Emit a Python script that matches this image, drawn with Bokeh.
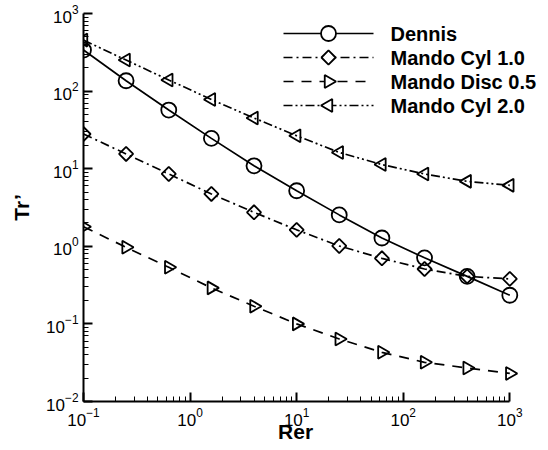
import math
from bokeh.plotting import figure
from bokeh.models import Range1d, FixedTicker, LogTickFormatter
from bokeh.core.properties import value
from bokeh.embed import file_html
from bokeh.resources import INLINE

# ---- data ----
rer = [0.1, 0.251, 0.631, 1.585, 3.98, 10.0, 25.1, 63.1, 158.5, 398.0, 1000.0]
dennis = [338, 136, 57, 24.6, 10.9, 5.2, 2.54, 1.28, 0.71, 0.41, 0.234]
mando_cyl_10 = [28.0, 15.5, 8.55, 4.73, 2.74, 1.63, 1.01, 0.70, 0.51, 0.41, 0.38]
mando_disc_05 = [1.79, 0.97, 0.536, 0.291, 0.169, 0.100, 0.064, 0.043, 0.032, 0.027, 0.023]
mando_cyl_20 = [454, 251, 139, 78, 45, 26.6, 16.2, 11.3, 8.55, 6.87, 6.1]

series_names = ["Dennis", "Mando Cyl 1.0", "Mando Disc 0.5", "Mando Cyl 2.0"]

x_major = [0.1, 1, 10, 100, 1000]
y_major = [0.01, 0.1, 1, 10, 100, 1000]
mantissas = [2, 3, 4, 5, 6, 7, 8, 9]

FONT = "Liberation Sans"

# ---- layout (pixels) ----
W, H = 548, 450
LEFT, TOP, BOTTOM = 83, 13, 49
X_AXIS_END_PX = 509.3          # pixel where x = 1000 sits
frame_w = W - LEFT
x_decade_px = (X_AXIS_END_PX - LEFT) / 4.0
x_hi = 10 ** (-1 + frame_w / x_decade_px)   # frame runs past 1000 so the legend is not clipped

p = figure(width=W, height=H, x_axis_type="log", y_axis_type="log",
           x_range=Range1d(0.1, x_hi), y_range=Range1d(0.01, 1000),
           output_backend="svg", toolbar_location=None,
           min_border_left=LEFT, min_border_right=0, min_border_top=TOP,
           min_border_bottom=BOTTOM)
p.outline_line_color = None
p.xgrid.visible = False
p.ygrid.visible = False

x_minor = [m * d for d in x_major[:-1] for m in mantissas]
y_minor = [m * d for d in y_major[:-1] for m in mantissas]
p.xaxis.ticker = FixedTicker(ticks=x_major, minor_ticks=x_minor)
p.yaxis.ticker = FixedTicker(ticks=y_major, minor_ticks=y_minor)
p.xaxis.formatter = LogTickFormatter()
p.yaxis.formatter = LogTickFormatter()
p.xaxis.bounds = (x_major[0], x_major[-1])

for ax in (p.xaxis[0], p.yaxis[0]):
    ax.axis_line_width = 2
    ax.axis_line_color = "black"
    ax.major_tick_in = 9
    ax.major_tick_out = 0
    ax.minor_tick_in = 5
    ax.minor_tick_out = 0
    ax.major_tick_line_width = 2
    ax.minor_tick_line_width = 1
    ax.major_tick_line_color = "black"
    ax.minor_tick_line_color = "black"
    ax.major_label_text_font = FONT
    ax.major_label_text_font_size = "17px"
    ax.major_label_text_color = "black"
    ax.axis_label_text_font = FONT
    ax.axis_label_text_font_size = "21px"
    ax.axis_label_text_font_style = "bold"
    ax.axis_label_text_color = "black"

NBSP = "\u00a0"
p.xaxis.axis_label = "Rer" + NBSP * 7      # centre the title under the 0.1..1000 span
p.yaxis.axis_label = "Tr\u2019"
p.xaxis.major_label_standoff = 6
p.yaxis.major_label_standoff = 5
p.xaxis.axis_label_standoff = -9
p.yaxis.axis_label_standoff = 10

LW = 1.7
MLW = 1.8
dashes = ["solid", "9 4 2 4", "10 8", "9 3 2 3 2 3"]
markers = [("circle", 0.0, 15), ("square", math.pi / 4, 10),
           ("triangle", -math.pi / 2, 13), ("triangle", math.pi / 2, 13)]
series = [dennis, mando_cyl_10, mando_disc_05, mando_cyl_20]

# ---- hand-made legend, placed in pixels and mapped through the plot scales ----
frame_h = H - TOP - BOTTOM
def px_to_x(sx):
    return 10 ** (-1 + (sx - LEFT) / x_decade_px)
def px_to_y(sy):
    return 10 ** (3 - (sy - TOP) * 5.0 / frame_h)

LEG_X0, LEG_X1, LEG_MARK, LEG_TEXT = 283, 373, 328, 390
LEG_ROWS = [33, 57, 81, 105]

for ys, dash, (mk, ang, sz), name, ry in zip(series, dashes, markers, series_names, LEG_ROWS):
    p.line(rer, ys, line_color="black", line_width=LW, line_dash=dash)
    p.scatter(rer, ys, marker=mk, angle=ang, size=sz, fill_color=None,
              line_color="black", line_width=MLW)
    # legend key
    p.line([px_to_x(LEG_X0), px_to_x(LEG_X1)], [px_to_y(ry), px_to_y(ry)],
           line_color="black", line_width=LW, line_dash=dash)
    p.scatter([px_to_x(LEG_MARK)], [px_to_y(ry)], marker=mk, angle=ang, size=sz,
              fill_color="white", line_color="black", line_width=MLW)
    p.text([px_to_x(LEG_TEXT)], [px_to_y(ry)], text=[name], text_font=value(FONT),
           text_font_size="20px", text_font_style="bold", text_color="black",
           text_baseline="middle", text_align="left")

open("out.html", "w").write(file_html(p, INLINE))
